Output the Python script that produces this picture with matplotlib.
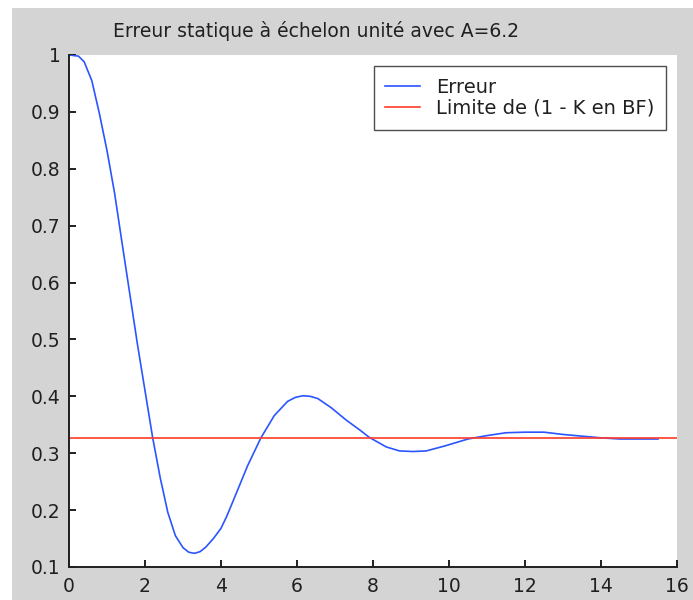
import matplotlib
matplotlib.use("Agg")
import matplotlib.pyplot as plt
from matplotlib.patches import Rectangle

t = [0, 0.25, 0.4, 0.6, 0.8, 1.0, 1.2, 1.4, 1.6, 1.8, 2.0, 2.2, 2.4, 2.6, 2.8, 3.0,
     3.15, 3.3, 3.45, 3.6, 3.8, 4.0, 4.15, 4.3, 4.7, 5.05, 5.4, 5.75, 5.95, 6.15, 6.35,
     6.55, 6.9, 7.3, 7.65, 7.9, 8.35, 8.7, 9.05, 9.4, 9.9, 10.5, 11.0, 11.5, 12.0, 12.5,
     13.0, 13.5, 14.0, 14.5, 15.0, 15.5]
erreur = [1.0, 0.998, 0.988, 0.955, 0.897, 0.832, 0.757, 0.668, 0.580, 0.492, 0.410,
          0.328, 0.257, 0.196, 0.155, 0.134, 0.126, 0.124, 0.127, 0.135, 0.150, 0.168,
          0.189, 0.213, 0.278, 0.327, 0.366, 0.391, 0.398, 0.401, 0.400, 0.396, 0.380,
          0.358, 0.341, 0.328, 0.311, 0.304, 0.303, 0.304, 0.313, 0.325, 0.331, 0.336,
          0.337, 0.337, 0.333, 0.330, 0.327, 0.325, 0.325, 0.325]
limite = 0.327
limit_range = [0, 16]
xticks = [0, 2, 4, 6, 8, 10, 12, 14, 16]
yticks = [0.1, 0.2, 0.3, 0.4, 0.5, 0.6, 0.7, 0.8, 0.9, 1]
ytick_labels = ["0.1", "0.2", "0.3", "0.4", "0.5", "0.6", "0.7", "0.8", "0.9", "1"]
title = "Erreur statique à échelon unité avec A=6.2"
labels = ["Erreur", "Limite de (1 - K en BF)"]

plt.rcParams['font.family'] = ['DejaVu Sans']

W, H = 693, 600
fig = plt.figure(figsize=(W / 100, H / 100), dpi=100, facecolor='white')
gray = '#d4d4d4'
fig.patches.append(Rectangle((12 / W, 0), 1 - 12 / W, 1 - 8 / H,
                             transform=fig.transFigure, facecolor=gray,
                             edgecolor='none', zorder=-10))

ax = fig.add_axes([69 / W, (H - 567) / H, (677 - 69) / W, (567 - 55) / H])
ax.set_facecolor('white')
ax.plot(t, erreur, color='#2a55ff', lw=1.2, label=labels[0])
ax.plot(limit_range, [limite, limite], color='#ff3b2a', lw=1.2, label=labels[1])
ax.set_xlim(0, 16)
ax.set_ylim(0.1, 1)
ax.set_xticks(xticks)
ax.set_xticklabels([str(v) for v in xticks])
ax.set_yticks(yticks)
ax.set_yticklabels(ytick_labels)
for s in ['top', 'right']:
    ax.spines[s].set_visible(False)
for s in ['left', 'bottom']:
    ax.spines[s].set_linewidth(1.4)
    ax.spines[s].set_color('#202020')
ax.tick_params(direction='in', length=5, width=1.4, labelsize=13.5, color='#202020',
               labelcolor='#202020')
ax.tick_params(axis='x', pad=7)
ax.tick_params(axis='y', pad=6)

fig.text(316 / W, 1 - 31 / H, title, ha='center', va='center', fontsize=13.5,
         color='#202020')

leg = ax.legend(loc='upper right', bbox_to_anchor=((666 - 69) / (677 - 69), (567 - 66) / (567 - 55)),
                fontsize=14, frameon=True, fancybox=False, handlelength=1.8,
                handletextpad=0.8, borderpad=0.6, labelspacing=0.12, borderaxespad=0)
leg.get_frame().set_edgecolor('#202020')
leg.get_frame().set_linewidth(1.0)
for txt in leg.get_texts():
    txt.set_color('#202020')

fig.savefig('out.png', dpi=100, facecolor='white')
